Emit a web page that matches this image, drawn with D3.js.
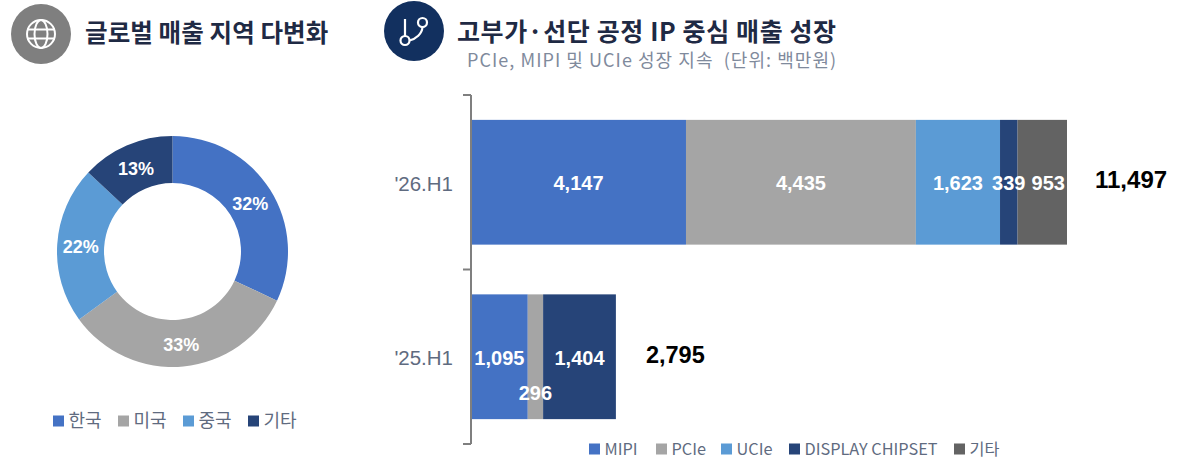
<!DOCTYPE html>
<html>
<head>
<meta charset="utf-8">
<script src="https://cdn.jsdelivr.net/npm/d3@7"></script>
<style>
html, body { margin: 0; padding: 0; background: #fff; overflow: hidden; }
text { font-family: "Noto Sans CJK KR", "Noto Sans", sans-serif; white-space: pre; }
.num { font-family: "Liberation Sans", Arial, sans-serif; font-weight: 700; }
</style>
</head>
<body>
<script>
// Colors
var cBlue = "#4472c4", cGray = "#a5a5a5", cSky = "#5b9bd5", cNavy = "#264478", cDark = "#636363";

// donut
var regions = ["한국", "미국", "중국", "기타"];
var regionShare = [32, 33, 22, 13];
var regionColors = [cBlue, cGray, cSky, cNavy];

// stacked bars
var periods = ["'26.H1", "'25.H1"];
var products = ["MIPI", "PCIe", "UCIe", "DISPLAY CHIPSET", "기타"];
var productColors = [cBlue, cGray, cSky, cNavy, cDark];
var mipi = [4147, 1095];
var pcie = [4435, 296];
var ucie = [1623, 0];
var display = [339, 1404];
var etc = [953, 0];
var totals = [11497, 2795];

var svg = d3.select("body")
        .append("svg")
        .attr("width", 1180)
        .attr("height", 469);

// headers
function header(cx, cy, fill) {
    return svg.append("circle").attr("cx", cx).attr("cy", cy).attr("r", 30).attr("fill", fill);
}
header(41, 34, "#7f7f7f");
header(414, 31, "#12305f");

// globe icon
var globe = svg.append("g").attr("transform", "translate(41,34)")
        .attr("fill", "none").attr("stroke", "#fff").attr("stroke-width", 2);
globe.append("circle").attr("r", 14);
globe.append("ellipse").attr("rx", 6.5).attr("ry", 14);
globe.append("path").attr("d", "M-14,-4.5H14M-14,4.5H14");

// branch icon
var branch = svg.append("g").attr("transform", "translate(414,31)")
        .attr("fill", "none").attr("stroke", "#fff").attr("stroke-width", 2.2);
branch.append("circle").attr("cx", -9).attr("cy", 9.5).attr("r", 4.5);
branch.append("circle").attr("cx", 8.5).attr("cy", -8.5).attr("r", 4.5);
branch.append("path").attr("d", "M-9,5V-12M8.5,-4C8,3 2,8 -4.5,9.5");

svg.append("text").attr("x", 85).attr("y", 42)
        .attr("font-size", 24.5).attr("font-weight", 700).attr("fill", "#1f2a44")
        .attr("letter-spacing", 0.1)
        .text("글로벌 매출 지역 다변화");
svg.append("text").attr("x", 457).attr("y", 41)
        .attr("font-size", 25).attr("font-weight", 700).attr("fill", "#1f2a44")
        .attr("letter-spacing", 0.6)
        .text("고부가·선단 공정 IP 중심 매출 성장");
svg.append("text").attr("x", 467).attr("y", 67)
        .attr("font-size", 18).attr("fill", "#7f8a9c")
        .attr("letter-spacing", 1.05)
        .text("PCIe, MIPI 및 UCIe 성장 지속  (단위: 백만원)");

// donut chart
var pie = d3.pie().sort(null);
var arc = d3.arc().innerRadius(68.5).outerRadius(115.5);
var labelArc = d3.arc().innerRadius(92).outerRadius(92);
var donut = svg.append("g").attr("transform", "translate(172.5,251.5)");

donut.selectAll("path")
        .data(pie(regionShare))
        .enter()
        .append("path")
        .attr("d", arc)
        .attr("fill", function(d, i) { return regionColors[i]; });

donut.selectAll("text")
        .data(pie(regionShare))
        .enter()
        .append("text")
        .attr("class", "num")
        .attr("transform", function(d) { return "translate(" + labelArc.centroid(d) + ")"; })
        .attr("text-anchor", "middle")
        .attr("dy", "0.42em")
        .attr("font-size", 18)
        .attr("fill", "#fff")
        .text(function(d) { return d.value + "%"; });

// legends
function legend(items, colors, xs, y, size) {
    var g = svg.append("g");
    items.forEach(function(name, i) {
        g.append("rect").attr("x", xs[i]).attr("y", y - 5.5).attr("width", 11).attr("height", 11).attr("fill", colors[i]);
        g.append("text").attr("x", xs[i] + 15.5).attr("y", y).attr("dy", "0.36em")
                .attr("font-size", size).attr("fill", "#5f6b80").text(name);
    });
}
legend(regions, regionColors, [53, 118, 183, 248], 421, 18);
legend(products, productColors, [589, 656, 721, 789, 954], 449, 16.3);

// bars
var x = d3.scaleLinear().domain([0, 11497]).range([471, 1067]);
var y = d3.scaleBand().domain(periods).range([95, 444]).paddingInner(0.285).paddingOuter(0.1425);

var layers = d3.stack().keys(d3.range(5))(periods.map(function(p, i) {
    return [mipi[i], pcie[i], ucie[i], display[i], etc[i]];
}));

layers.forEach(function(layer, k) {
    svg.append("g").selectAll("rect")
            .data(layer)
            .enter()
            .append("rect")
            .attr("x", function(d) { return x(d[0]); })
            .attr("y", function(d, i) { return y(periods[i]); })
            .attr("width", function(d) { return x(d[1]) - x(d[0]); })
            .attr("height", y.bandwidth())
            .attr("fill", productColors[k]);
});

// axis: bracket with ticks at band edges
var axisLine = svg.append("g").attr("stroke", "#7f7f7f").attr("stroke-width", 2).attr("fill", "none");
axisLine.append("path").attr("d", "M471,95V444");
[95, 95 + y.step(), 444].forEach(function(t) {
    axisLine.append("path").attr("d", "M463," + t + "H471");
});

periods.forEach(function(p) {
    svg.append("text").attr("x", 453).attr("y", y(p) + y.bandwidth() / 2 + 1)
            .attr("text-anchor", "end").attr("dy", "0.36em")
            .style("font-family", "Liberation Sans")
            .attr("font-size", 20.5).attr("fill", "#5f6b80").text(p);
});

// value labels
layers.forEach(function(layer) {
    svg.append("g").selectAll("text")
            .data(layer.filter(function(d) { return d[1] > d[0]; }))
            .enter()
            .append("text")
            .attr("class", "num")
            .attr("x", function(d) {
                // 953 sits off centre in the reference so it clears 339
                var nudge = (d[1] - d[0] === 953) ? 6 : 0;
                return (x(d[0]) + x(d[1])) / 2 + nudge;
            })
            .attr("y", function(d) {
                var i = layer.indexOf(d);
                var lift = (d[1] - d[0] === 296) ? 36 : 1;
                return y(periods[i]) + y.bandwidth() / 2 + lift;
            })
            .attr("dy", "0.36em")
            .attr("text-anchor", "middle")
            .attr("font-size", 20)
            .attr("fill", "#fff")
            .text(function(d) { return d3.format(",")(d[1] - d[0]); });
});

// totals
svg.selectAll(".total")
        .data(totals)
        .enter()
        .append("text")
        .attr("class", "num total")
        .attr("x", function(d, i) { return x(d) + (i === 0 ? 28 : 30); })
        .attr("y", function(d, i) { return y(periods[i]) + y.bandwidth() / 2 - (i === 0 ? 3 : 2); })
        .attr("dy", "0.36em")
        .attr("font-size", function(d, i) { return i === 0 ? 24 : 23.5; })
        .attr("fill", "#000")
        .text(function(d) { return d3.format(",")(d); });
</script>
</body>
</html>
